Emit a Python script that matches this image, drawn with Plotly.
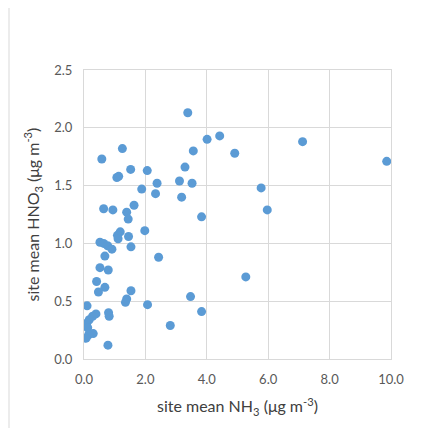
import plotly.graph_objects as go

nh3 = [3.38, 4.01, 4.42, 4.91, 1.25, 0.58, 3.56, 1.07, 1.13, 1.52, 2.06, 3.29,
       1.88, 2.38, 2.33, 3.11, 3.52, 3.18, 3.83, 0.64, 0.94, 1.63, 1.39, 1.44,
       1.98, 1.18, 1.09, 1.11, 1.45, 1.53, 0.52, 0.64, 0.77, 0.91, 2.43, 0.68,
       0.52, 0.79, 0.41, 0.68, 0.47, 1.53, 1.39, 1.35, 3.47, 0.10, 2.07, 0.39,
       0.28, 0.17, 0.09, 0.12, 0.30, 0.15, 0.07, 0.80, 0.82, 3.83, 2.81, 0.78,
       7.12, 9.86, 5.77, 5.97, 5.27]
hno3 = [2.13, 1.90, 1.93, 1.78, 1.82, 1.73, 1.80, 1.57, 1.58, 1.64, 1.63, 1.66,
        1.47, 1.52, 1.43, 1.54, 1.52, 1.40, 1.23, 1.30, 1.29, 1.33, 1.27, 1.21,
        1.11, 1.10, 1.07, 1.04, 1.06, 0.97, 1.01, 1.00, 0.98, 0.95, 0.88, 0.89,
        0.79, 0.77, 0.67, 0.62, 0.58, 0.59, 0.52, 0.49, 0.54, 0.46, 0.47, 0.39,
        0.37, 0.34, 0.31, 0.27, 0.22, 0.21, 0.18, 0.40, 0.37, 0.41, 0.29, 0.12,
        1.88, 1.71, 1.48, 1.29, 0.71]

x_ticks = [0, 2, 4, 6, 8, 10]
y_ticks = [0, 0.5, 1.0, 1.5, 2.0, 2.5]

# page has an 8px body margin, so the figure is drawn 8px in from the window edge
W, H = 414, 420
L, T = 76, 62
pw, ph = 307, 289
R, B = W - L - pw, H - T - ph

fig = go.Figure(go.Scatter(
    x=nh3, y=hno3, mode="markers",
    marker=dict(size=9, color="#5b9bd5", line=dict(width=0)),
    hoverinfo="x+y"))

grid = "#d9d9d9"
tickfont = dict(family="Lato, Liberation Sans, sans-serif", size=13, color="#595959")
titlefont = dict(family="Lato, Liberation Sans, sans-serif", size=16, color="#404040")

fig.update_xaxes(range=[0, 10], tickvals=x_ticks, tickformat=".1f",
                 showgrid=True, gridcolor=grid, gridwidth=1,
                 showline=True, linecolor=grid, linewidth=1, mirror=True,
                 zeroline=False, ticks="", tickfont=tickfont, ticklabelstandoff=8,
                 title=dict(text="site mean NH<sub>3</sub> (μg m<sup>-3</sup>)",
                            font=titlefont, standoff=15))
fig.update_yaxes(range=[0, 2.5], tickvals=y_ticks, tickformat=".1f",
                 showgrid=True, gridcolor=grid, gridwidth=1,
                 showline=True, linecolor=grid, linewidth=1, mirror=True,
                 zeroline=False, ticks="", tickfont=tickfont, ticklabelstandoff=8,
                 title=dict(text="site mean HNO<sub>3</sub> (μg m<sup>-3</sup>)",
                            font=titlefont, standoff=10))

bx0 = (1 - L) / pw
bx1 = (W - L) / pw
by1 = (H - T - 2) / ph
by0 = -B / ph
fig.update_layout(
    width=W, height=H,
    margin=dict(l=L, r=R, t=T, b=B),
    paper_bgcolor="white", plot_bgcolor="white",
    showlegend=False,
    shapes=[
        dict(type="line", xref="paper", yref="paper", x0=bx0, x1=bx1, y0=by1, y1=by1,
             line=dict(color=grid, width=1)),
        dict(type="line", xref="paper", yref="paper", x0=bx0, x1=bx0, y0=by1, y1=by0,
             line=dict(color=grid, width=1)),
    ],
)

fig.write_html("out.html")
